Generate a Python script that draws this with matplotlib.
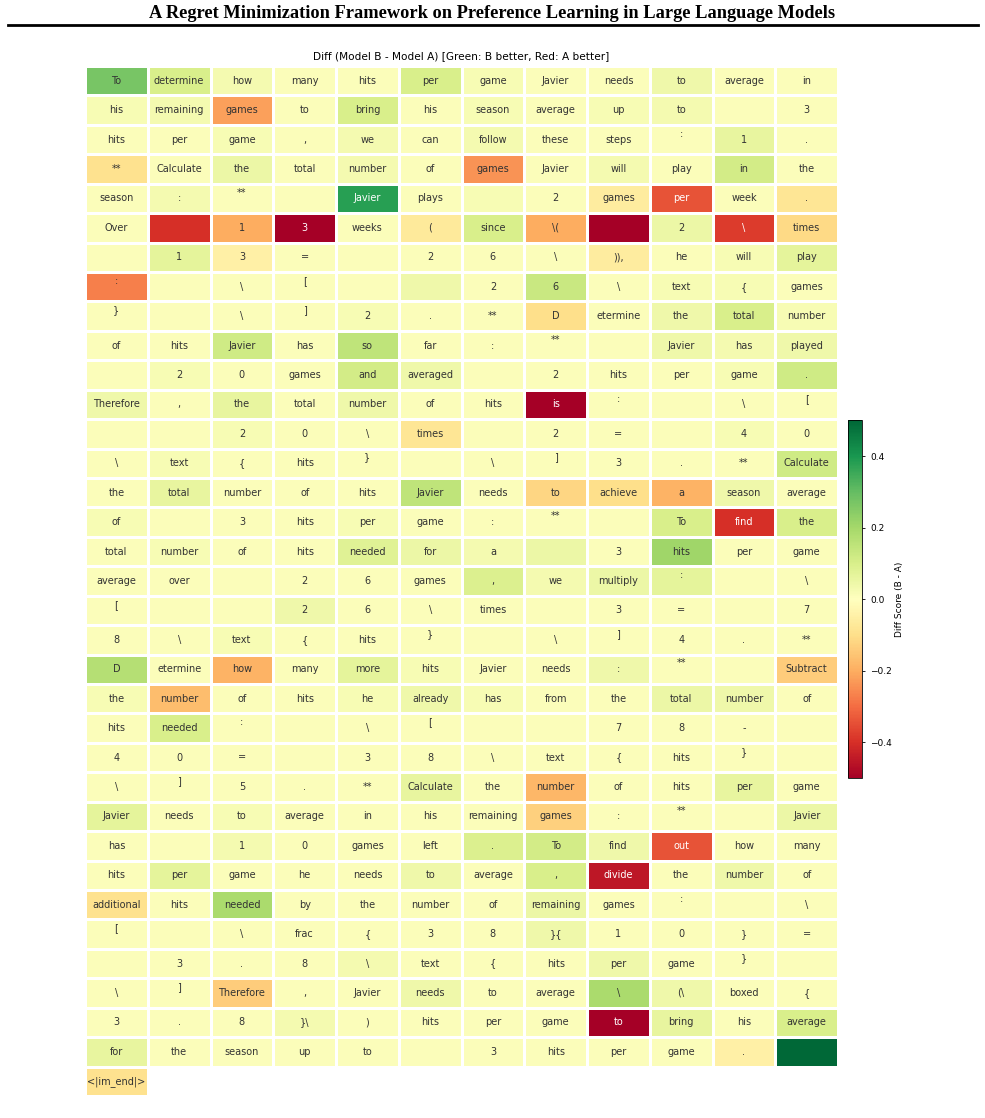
import numpy as np
import matplotlib
matplotlib.use("Agg")
import matplotlib.pyplot as plt
from matplotlib.colors import Normalize

N_COLS = 12

# tokens laid out row by row (a trailing "\n" is part of the token text)
tokens = [
    ["To", "determine", "how", "many", "hits", "per", "game", "Javier", "needs", "to", "average", "in"],
    ["his", "remaining", "games", "to", "bring", "his", "season", "average", "up", "to", "", "3"],
    ["hits", "per", "game", ",", "we", "can", "follow", "these", "steps", ":\n", "1", "."],
    ["**", "Calculate", "the", "total", "number", "of", "games", "Javier", "will", "play", "in", "the"],
    ["season", ":", "**\n", "", "Javier", "plays", "", "2", "games", "per", "week", "."],
    ["Over", "", "1", "3", "weeks", "(", "since", "\\(", "", "2", "\\", "times"],
    ["", "1", "3", "=", "", "2", "6", "\\", ")),", "he", "will", "play"],
    [":\n", "", "\\", "[\n", "", "", "2", "6", "\\", "text", "{", "games"],
    ["}\n", "", "\\", "]\n", "2", ".", "**", "D", "etermine", "the", "total", "number"],
    ["of", "hits", "Javier", "has", "so", "far", ":", "**\n", "", "Javier", "has", "played"],
    ["", "2", "0", "games", "and", "averaged", "", "2", "hits", "per", "game", "."],
    ["Therefore", ",", "the", "total", "number", "of", "hits", "is", ":\n", "", "\\", "[\n"],
    ["", "", "2", "0", "\\", "times", "", "2", "=", "", "4", "0"],
    ["\\", "text", "{", "hits", "}\n", "", "\\", "]\n", "3", ".", "**", "Calculate"],
    ["the", "total", "number", "of", "hits", "Javier", "needs", "to", "achieve", "a", "season", "average"],
    ["of", "", "3", "hits", "per", "game", ":", "**\n", "", "To", "find", "the"],
    ["total", "number", "of", "hits", "needed", "for", "a", "", "3", "hits", "per", "game"],
    ["average", "over", "", "2", "6", "games", ",", "we", "multiply", ":\n", "", "\\"],
    ["[\n", "", "", "2", "6", "\\", "times", "", "3", "=", "", "7"],
    ["8", "\\", "text", "{", "hits", "}\n", "", "\\", "]\n", "4", ".", "**"],
    ["D", "etermine", "how", "many", "more", "hits", "Javier", "needs", ":", "**\n", "", "Subtract"],
    ["the", "number", "of", "hits", "he", "already", "has", "from", "the", "total", "number", "of"],
    ["hits", "needed", ":\n", "", "\\", "[\n", "", "", "7", "8", "-", ""],
    ["4", "0", "=", "", "3", "8", "\\", "text", "{", "hits", "}\n", ""],
    ["\\", "]\n", "5", ".", "**", "Calculate", "the", "number", "of", "hits", "per", "game"],
    ["Javier", "needs", "to", "average", "in", "his", "remaining", "games", ":", "**\n", "", "Javier"],
    ["has", "", "1", "0", "games", "left", ".", "To", "find", "out", "how", "many"],
    ["hits", "per", "game", "he", "needs", "to", "average", ",", "divide", "the", "number", "of"],
    ["additional", "hits", "needed", "by", "the", "number", "of", "remaining", "games", ":\n", "", "\\"],
    ["[\n", "", "\\", "frac", "{", "3", "8", "}{", "1", "0", "}", "="],
    ["", "3", ".", "8", "\\", "text", "{", "hits", "per", "game", "}\n", ""],
    ["\\", "]\n", "Therefore", ",", "Javier", "needs", "to", "average", "\\", "(\\", "boxed", "{"],
    ["3", ".", "8", "}\\", ")", "hits", "per", "game", "to", "bring", "his", "average"],
    ["for", "the", "season", "up", "to", "", "3", "hits", "per", "game", ".", ""],
    ["<|im_end|>"],
]

# diff score (B - A) per token, same layout
scores = [
    [0.27, 0.10, 0.03, 0.01, 0.01, 0.10, 0.02, 0.01, 0.01, 0.04, 0.01, 0.01],
    [0.02, 0.03, -0.22, 0.01, 0.10, 0.01, 0.02, 0.01, 0.02, 0.03, 0.01, 0.01],
    [0.01, 0.01, 0.02, 0.01, 0.03, 0.01, 0.03, 0.01, 0.01, 0.01, 0.06, 0.01],
    [-0.09, 0.01, 0.05, 0.01, 0.03, 0.01, -0.24, 0.01, 0.03, 0.01, 0.11, 0.01],
    [0.01, 0.03, 0.01, 0.01, 0.38, 0.01, 0.02, 0.01, -0.06, -0.34, 0.01, -0.08],
    [0.01, -0.40, -0.20, -0.50, 0.01, -0.07, 0.10, -0.20, -0.50, 0.05, -0.38, -0.11],
    [0.01, 0.07, -0.05, 0.01, 0.01, 0.01, 0.01, 0.01, -0.06, 0.01, 0.02, 0.07],
    [-0.27, 0.01, 0.01, 0.01, 0.01, 0.04, 0.01, 0.13, 0.01, 0.02, 0.02, 0.01],
    [0.01, 0.01, 0.01, 0.01, 0.02, 0.01, 0.01, -0.10, 0.01, 0.04, 0.10, 0.02],
    [0.01, 0.01, 0.12, 0.01, 0.15, 0.01, 0.01, 0.01, 0.01, 0.04, 0.03, 0.04],
    [0.01, 0.02, 0.01, 0.01, 0.11, 0.04, 0.01, 0.01, 0.01, 0.01, 0.02, 0.12],
    [0.04, 0.01, 0.06, 0.01, 0.04, 0.01, 0.01, -0.50, 0.01, 0.01, 0.01, 0.01],
    [0.01, 0.01, 0.02, 0.01, 0.01, -0.08, 0.01, 0.01, 0.01, 0.01, 0.02, 0.01],
    [0.01, 0.02, 0.01, 0.01, 0.01, 0.01, 0.01, 0.01, 0.01, 0.01, 0.01, 0.12],
    [0.01, 0.06, 0.01, 0.01, 0.01, 0.15, 0.01, -0.12, -0.10, -0.19, 0.04, 0.01],
    [0.02, 0.01, 0.01, 0.01, 0.02, 0.01, 0.01, 0.01, 0.01, 0.10, -0.40, 0.10],
    [0.01, 0.02, 0.01, 0.01, 0.08, 0.05, 0.03, 0.05, 0.01, 0.21, 0.01, 0.01],
    [0.01, 0.01, 0.01, 0.01, 0.01, 0.01, 0.09, 0.03, 0.05, 0.07, 0.01, 0.01],
    [0.01, 0.01, 0.01, 0.04, 0.01, 0.01, 0.01, 0.01, 0.01, 0.01, 0.01, 0.01],
    [0.01, 0.01, 0.02, 0.01, 0.01, 0.01, 0.01, 0.01, 0.01, 0.01, 0.01, 0.01],
    [0.17, 0.01, -0.19, 0.01, 0.07, 0.02, 0.01, 0.01, 0.04, 0.01, 0.01, -0.14],
    [0.02, -0.17, 0.01, 0.01, 0.02, 0.04, 0.02, 0.01, 0.01, 0.05, 0.04, 0.01],
    [0.01, 0.10, 0.01, 0.01, 0.01, 0.01, 0.01, 0.01, 0.01, 0.01, 0.01, 0.01],
    [0.01, 0.01, 0.01, 0.01, 0.01, 0.01, 0.01, 0.01, 0.01, 0.01, 0.01, 0.01],
    [0.01, 0.01, 0.01, 0.01, 0.01, 0.06, 0.01, -0.18, 0.01, 0.01, 0.06, 0.01],
    [0.07, 0.01, 0.02, 0.01, 0.01, 0.01, 0.01, -0.13, 0.01, 0.01, 0.01, 0.05],
    [0.01, 0.01, 0.03, 0.01, 0.01, 0.01, 0.09, 0.11, 0.04, -0.34, 0.01, 0.01],
    [0.01, 0.07, 0.01, 0.01, 0.01, 0.04, 0.01, 0.10, -0.45, 0.01, 0.04, 0.01],
    [-0.09, 0.01, 0.19, 0.01, 0.01, 0.01, 0.01, 0.05, 0.01, 0.01, 0.01, 0.01],
    [0.01, 0.01, 0.01, 0.01, 0.01, 0.01, 0.01, 0.04, 0.01, 0.01, 0.01, 0.01],
    [0.01, 0.01, 0.01, 0.01, 0.03, 0.01, 0.01, 0.01, 0.04, 0.01, 0.01, 0.01],
    [0.01, 0.01, -0.14, 0.01, 0.01, 0.04, 0.01, 0.01, 0.19, 0.04, 0.01, 0.01],
    [0.01, 0.01, 0.01, 0.03, 0.01, 0.01, 0.01, 0.01, -0.50, 0.06, 0.01, 0.10],
    [0.06, 0.01, 0.01, 0.01, 0.01, 0.01, 0.01, 0.01, 0.01, 0.01, -0.05, 0.50],
    [-0.09],
]

PAPER_TITLE = "A Regret Minimization Framework on Preference Learning in Large Language Models"
CHART_TITLE = "Diff (Model B - Model A) [Green: B better, Red: A better]"
CBAR_LABEL = "Diff Score (B - A)"
VMIN, VMAX = -0.5, 0.5

# ── grid ────────────────────────────────────────────────────────────────────
n_rows = len(tokens)
grid = np.full((n_rows, N_COLS), np.nan)
for r, row in enumerate(scores):
    grid[r, :len(row)] = row
grid = np.ma.masked_invalid(grid)

fig = plt.figure(figsize=(9.85, 11.18), dpi=100)

# paper header
fig.text(0.5, 0.988, PAPER_TITLE, ha="center", va="center",
         family="Liberation Serif", weight="bold", fontsize=13.2)
fig.add_artist(plt.Line2D([0.008, 0.993], [0.9775, 0.9775], color="black", lw=2.0))

ax = fig.add_axes([0.0863, 0.0197, 0.7645, 0.9213])
cmap = plt.get_cmap("RdYlGn")
norm = Normalize(vmin=VMIN, vmax=VMAX)
mesh = ax.pcolormesh(grid, cmap=cmap, norm=norm, edgecolors="white", linewidth=0.8)
ax.set_xlim(0, N_COLS)
ax.set_ylim(n_rows, 0)
ax.set_xticks([])
ax.set_yticks([])
for s in ax.spines.values():
    s.set_visible(False)
ax.set_title(CHART_TITLE, fontsize=7.6, pad=5)

for r, row in enumerate(tokens):
    for c, tok in enumerate(row):
        v = scores[r][c]
        color = "white" if abs(v) > 0.28 else "#333333"
        ax.text(c + 0.5, r + 0.5, tok, ha="center", va="center",
                fontsize=7, color=color)

# colorbar
cax = fig.add_axes([0.861, 0.304, 0.0142, 0.320])
cb = fig.colorbar(mesh, cax=cax)
cb.set_ticks([-0.4, -0.2, 0.0, 0.2, 0.4])
cb.ax.tick_params(labelsize=6.5, length=2.5, width=0.6)
cb.outline.set_linewidth(0.6)
cb.set_label(CBAR_LABEL, fontsize=6.5, labelpad=2)

fig.savefig("out.png", dpi=100)
